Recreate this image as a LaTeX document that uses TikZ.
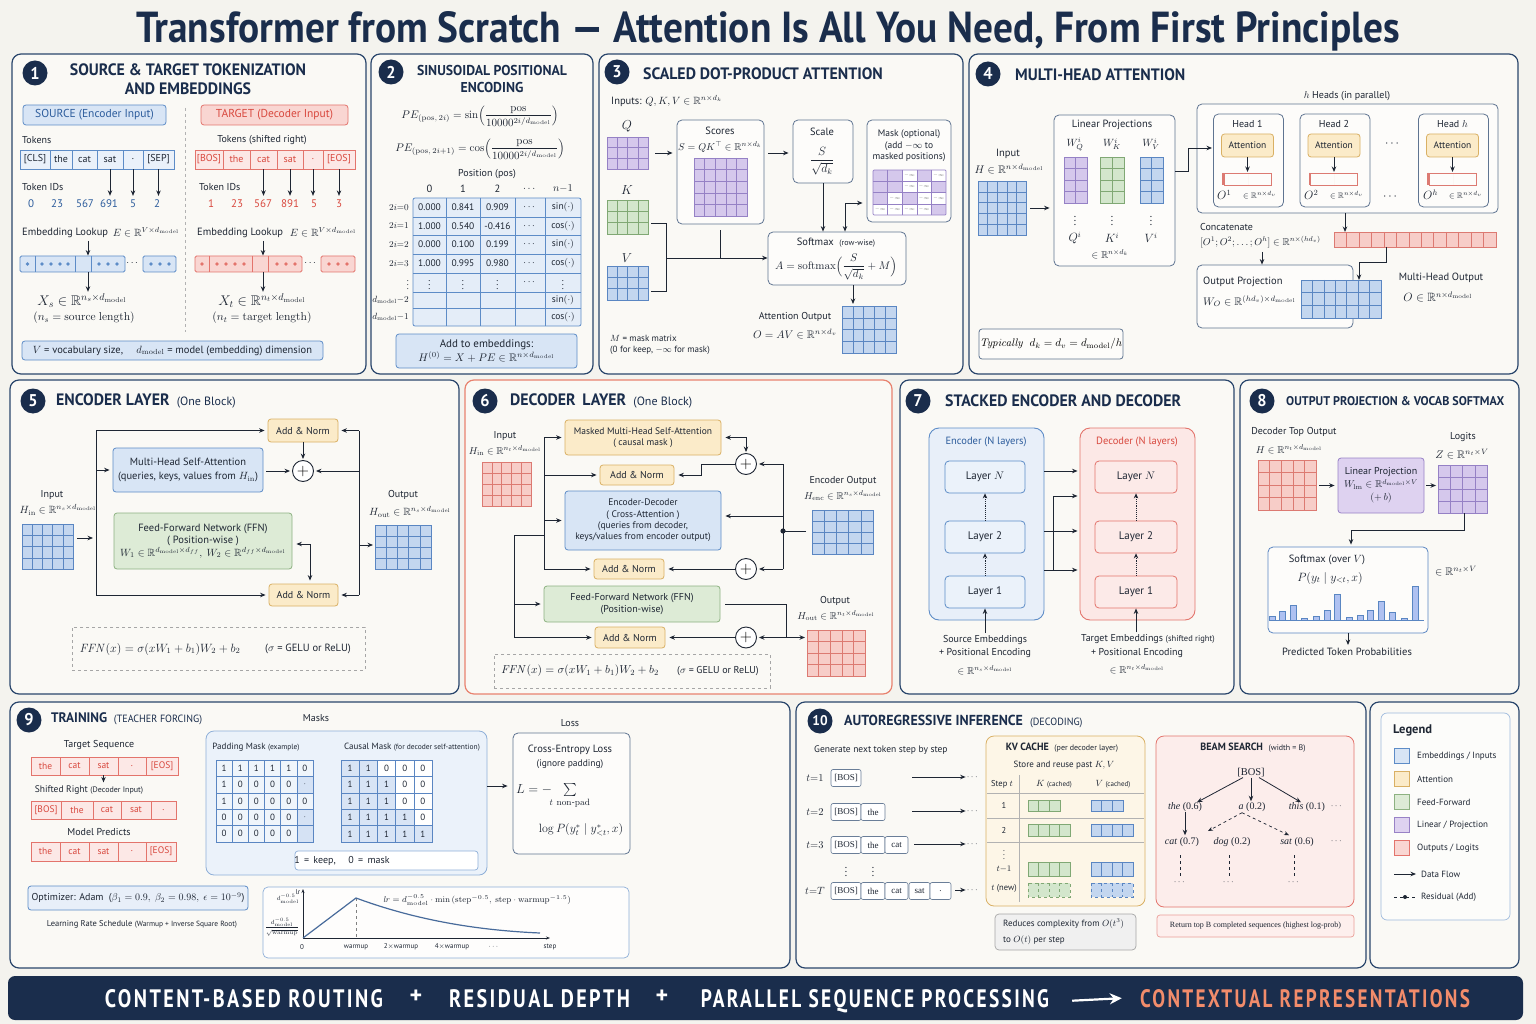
\RequirePackage{fix-cm}
\documentclass[tikz,border=0pt]{standalone}
\usepackage{amsmath,amssymb}
\usepackage[no-math]{fontspec}
\setmainfont{PT Sans}
\setsansfont{PT Sans}
\newfontfamily\hdfont[FakeStretch=0.96]{PT Sans}
\newfontfamily\bnfont[LetterSpace=12]{PT Sans}
\newfontfamily\serif{Liberation Serif}
\usepackage{graphicx}
\usetikzlibrary{arrows.meta,calc}

\definecolor{bgcol}{HTML}{F4F3EE}
\definecolor{panelfill}{HTML}{FAF9F5}
\definecolor{panelline}{HTML}{2A466C}
\definecolor{navy}{HTML}{1A2D4C}
\definecolor{ink}{HTML}{1E2633}
\definecolor{bluefill}{HTML}{D8E5F5}
\definecolor{blueline}{HTML}{5D8CC7}
\definecolor{bluetext}{HTML}{2C5C9C}
\definecolor{redfill}{HTML}{F9D6D2}
\definecolor{redline}{HTML}{E3746C}
\definecolor{redtext}{HTML}{D8483E}
\definecolor{grnfill}{HTML}{DDEBD6}
\definecolor{grnline}{HTML}{8DB281}
\definecolor{yelfill}{HTML}{FBEBC9}
\definecolor{yelline}{HTML}{D9B064}
\definecolor{purfill}{HTML}{DED2F0}
\definecolor{purline}{HTML}{9882C6}
\definecolor{bluemat}{HTML}{C3D6EF}
\definecolor{bluematline}{HTML}{5A86C2}
\definecolor{redmat}{HTML}{F7CDC8}
\definecolor{redmatline}{HTML}{DC7A72}
\definecolor{purmat}{HTML}{D5C8EC}
\definecolor{purmatline}{HTML}{9581C5}
\definecolor{grnmat}{HTML}{D3E6CC}
\definecolor{grnmatline}{HTML}{80A874}
\definecolor{orng}{HTML}{F28C6B}
\definecolor{p6line}{HTML}{E8826F}

\newcommand\fs[1]{\fontsize{#1}{\fpeval{1.2*#1}}\selectfont}
\newcommand\dm{d_{\mathrm{model}}}
\newcommand\RR{\mathbb{R}}

\newcommand\gridm[9][]{%
  \pgfmathsetmacro\gdx{(#4-#2)/#6}%
  \pgfmathsetmacro\gdy{(#5-#3)/#7}%
  \pgfmathtruncatemacro\gnc{#6-1}%
  \pgfmathtruncatemacro\gnr{#7-1}%
  \pgfmathsetmacro\gw{#4-#2}%
  \pgfmathsetmacro\gh{#5-#3}%
  \node[inner sep=0pt, outer sep=0pt, minimum width=\gw pt, minimum height=\gh pt, fill=#8mat] (#9) at ({(#2+#4)/2},{(#3+#5)/2}) {};
  \foreach \gi in {1,...,\gnc}{\draw[draw=#8matline, line width=0.5pt, #1] ({#2+\gi*\gdx},#3) -- ({#2+\gi*\gdx},#5);}%
  \ifnum\gnr>0 \foreach \gi in {1,...,\gnr}{\draw[draw=#8matline, line width=0.5pt, #1] (#2,{#3+\gi*\gdy}) -- (#4,{#3+\gi*\gdy});}\fi
  \draw[draw=#8matline, line width=0.8pt, #1] (#2,#3) rectangle (#4,#5);
}

\tikzset{
 panel/.style={draw=panelline, line width=1.2pt, rounded corners=9pt, fill=panelfill},
 badge/.style={circle, fill=navy, text=white, font=\hdfont\bfseries\fs{17}, inner sep=0pt, minimum size=25pt},
 ttl/.style={text=navy, font=\hdfont\bfseries\fs{16.5}, inner sep=0pt},
 txt/.style={text=ink, font=\fs{10}, inner sep=0pt},
 mth/.style={text=ink, font=\fs{11}, inner sep=0pt},
 ln/.style={draw=ink, line width=0.9pt},
 arr/.style={ln, -{Stealth[length=5.5pt,width=4.5pt]}},
 arrboth/.style={ln, {Stealth[length=5.5pt,width=4.5pt]}-{Stealth[length=5.5pt,width=4.5pt]}},
 bbox/.style={draw=#1line, fill=#1fill, rounded corners=3pt, line width=0.8pt, inner sep=0pt, text=ink},
 wbox/.style={draw=panelline!75, fill=white!55!panelfill, rounded corners=5pt, line width=0.8pt, inner sep=0pt},
 tok/.style={draw=#1line, fill=#1fill!55, minimum height=19pt, inner sep=0pt, font=\fs{10}, text=ink, line width=0.7pt},
 emb/.style={draw=#1line, fill=#1fill, minimum height=16pt, inner sep=0pt, rounded corners=1.5pt, line width=0.8pt},
 plus/.style={circle, draw=ink, line width=0.9pt, fill=white, minimum size=21pt, inner sep=0pt, font=\fs{16}},
 dashbox/.style={draw=gray!70, dashed, line width=0.7pt, inner sep=0pt},
 dotarr/.style={ln, densely dotted, -{Stealth[length=5pt,width=4.5pt]}},
 darr/.style={ln, dashed, line width=0.7pt, -{Stealth[length=5pt,width=4pt]}},
 sbox/.style={draw=panelline!70, fill=white, rounded corners=2pt, minimum height=17pt, inner sep=0pt, font=\serif\fs{9}, text=ink, line width=0.6pt},
}

\begin{document}
\begin{tikzpicture}[x=1pt,y=-1pt]
\useasboundingbox (0,0) rectangle (1536,1024);
\fill[bgcol] (0,0) rectangle (1536,1024);

% ---------- title
\node[anchor=base, inner sep=0pt, text=navy] (title) at (768,43) {\resizebox{1263pt}{31pt}{\bfseries Transformer from Scratch — Attention Is All You Need, From First Principles}};

% ================= PANEL 1
\draw[panel] (12,54) rectangle (366,374);
\node[badge] (b1) at (35,73) {1};
\node[ttl] (t1a) at (188,70) {SOURCE \& TARGET TOKENIZATION};
\node[ttl] (t1b) at (188,89) {AND EMBEDDINGS};
\node[bbox=blue, minimum width=143pt, minimum height=20pt, font=\fs{11.5}, text=bluetext] (srcl) at (94.5,115) {SOURCE (Encoder Input)};
\node[bbox=red, minimum width=147pt, minimum height=20pt, font=\fs{11.5}, text=redtext] (tgtl) at (274.5,115) {TARGET (Decoder Input)};
\coordinate (dv1) at (185,108); \coordinate (dv2) at (185,332);
\draw[dashed, draw=gray!60, line width=0.7pt] (dv1) -- (dv2);
\node[txt, anchor=west] (tk1) at (22,140) {Tokens};
\node[txt] (tk2) at (262,140) {Tokens (shifted right)};
\foreach \cx/\w/\tx/\nm in {35/30/{[CLS]}/s1, 61/22/the/s2, 84.5/25/cat/s3, 110/26/sat/s4, 133/20/./s5, 158.5/31/{[SEP]}/s6}
  \node[tok=blue, minimum width=\w pt] (\nm) at (\cx,159.5) {\tx};
\foreach \cx/\w/\tx/\nm in {209/28/{[BOS]}/u1, 236.5/27/the/u2, 263.5/27/cat/u3, 290/26/sat/u4, 313/20/./u5, 339/32/{[EOS]}/u6}
  \node[tok=red, minimum width=\w pt, text=redtext] (\nm) at (\cx,159.5) {\tx};
\node[txt, anchor=west] (tida) at (22,187) {Token IDs};
\node[txt, anchor=west] (tidb) at (199,187) {Token IDs};
\foreach \cx/\tx [count=\i] in {31/0, 57/23, 85/567, 109/691, 133/5, 157/2}
  \node[txt, font=\fs{11}, text=bluetext] (sid\i) at (\cx,204) {\tx};
\foreach \cx/\tx [count=\i] in {211/1, 237/23, 263/567, 290/891, 314/5, 339/3}
  \node[txt, font=\fs{11}, text=redtext] (tid\i) at (\cx,204) {\tx};
\foreach \i in {4,5,6} \draw[arr] (s\i.south) -- ([yshift=4pt]s\i.south |- sid\i.north);
\foreach \i in {3,4,5,6} \draw[arr] (u\i.south) -- ([yshift=4pt]u\i.south |- tid\i.north);
\node[txt, anchor=west, font=\fs{10.5}] (el1) at (22,233) {Embedding Lookup};
\node[mth, font=\fs{10.5}] (ee1) at (146,232) {$E\in\RR^{V\times\dm}$};
\node[txt, anchor=west, font=\fs{10.5}] (el2) at (197,233) {Embedding Lookup};
\node[mth, font=\fs{10.5}] (ee2) at (323,232) {$E\in\RR^{V\times\dm}$};
\node[emb=blue, minimum width=105pt] (semb) at (72.5,264) {};
\node[emb=blue, minimum width=33pt] (semb2) at (159.5,264) {};
\foreach \x in {35,75,91} \draw[blueline, line width=0.7pt] (\x,256) -- (\x,272);
\foreach \x in {27.5,42,51,60,68,99,108,117,151,160,169} \fill[blueline] (\x,264) circle (1.8pt);
\node[txt] (sdots) at (133,263) {$\cdots$};
\coordinate (sl) at (88,241);
\node[mth, font=\fs{14}] (xs) at (82,301) {$X_s\in\RR^{n_s\times\dm}$};
\node[mth, font=\fs{11.5}] (xsl) at (84,318) {$(n_s=\mathrm{source\ length})$};
\draw[arr] (sl) -- (sl |- semb.north);
\draw[arr] (sl |- semb.south) -- ([yshift=2pt]sl |- xs.north);
\node[emb=red, minimum width=107pt] (temb) at (248.5,264) {};
\node[emb=red, minimum width=34pt] (temb2) at (338,264) {};
\foreach \x in {209,252,268} \draw[redline, line width=0.7pt] (\x,256) -- (\x,272);
\foreach \x in {202,217,226,235,244,277,286,295,329,338,347} \fill[redline] (\x,264) circle (1.8pt);
\node[txt] (tdots) at (311,263) {$\cdots$};
\coordinate (tl) at (263,241);
\node[mth, font=\fs{14}] (xt) at (262,301) {$X_t\in\RR^{n_t\times\dm}$};
\node[mth, font=\fs{11.5}] (xtl) at (262,318) {$(n_t=\mathrm{target\ length})$};
\draw[arr] (tl) -- (tl |- temb.north);
\draw[arr] (tl |- temb.south) -- ([yshift=2pt]tl |- xt.north);
\node[bbox=blue, minimum width=301pt, minimum height=19pt, font=\fs{10.5}] (vbox) at (172.5,350.5) {$V$ = vocabulary size, \quad $\dm$ = model (embedding) dimension};

% ================= PANEL 2
\draw[panel] (371,54) rectangle (593,374);
\node[badge] (b2) at (391,72) {2};
\node[ttl, font=\hdfont\bfseries\fs{14.3}] (t2a) at (492,70) {SINUSOIDAL POSITIONAL};
\node[ttl, font=\hdfont\bfseries\fs{14.3}] (t2b) at (492,87) {ENCODING};
\node[mth, font=\fs{11}] (pef1) at (480,116) {$PE_{(\mathrm{pos},\,2i)} = \sin\Bigl(\dfrac{\mathrm{pos}}{10000^{2i/\dm}}\Bigr)$};
\node[mth, font=\fs{11}] (pef2) at (480,149) {$PE_{(\mathrm{pos},\,2i+1)} = \cos\Bigl(\dfrac{\mathrm{pos}}{10000^{2i/\dm}}\Bigr)$};
\node[txt] (pp) at (487,174) {Position (pos)};
\foreach \cx/\tx [count=\i] in {429.5/0, 463/1, 497.5/2, 530/{$\cdots$}, 563/{$n{-}1$}}
  \node[txt, font=\fs{10.5}] (ph\i) at (\cx,189) {\tx};
\node[draw=blueline, fill=bluefill!70, line width=0.8pt, rounded corners=2pt, minimum width=168pt, minimum height=128pt, inner sep=0pt] (petab) at (497,262) {};
\foreach \x in {446,480,515,545} \draw[blueline, line width=0.6pt] (\x,198) -- (\x,326);
\foreach \y in {217,235,254,273,292,308} \draw[blueline, line width=0.6pt] (413,\y) -- (581,\y);
\foreach \ry/\a/\b/\c/\d/\e [count=\ri] in {
 207.5/0.000/0.841/0.909/{$\cdots$}/{sin$(\cdot)$},
 226/1.000/0.540/-0.416/{$\cdots$}/{cos$(\cdot)$},
 244.5/0.000/0.100/0.199/{$\cdots$}/{sin$(\cdot)$},
 263.5/1.000/0.995/0.980/{$\cdots$}/{cos$(\cdot)$},
 282.5/{$\vdots$}/{$\vdots$}/{$\vdots$}/{$\cdots$}/{$\vdots$},
 300/{}/{}/{}/{}/{sin$(\cdot)$},
 317/{}/{}/{}/{}/{cos$(\cdot)$}}
{
 \node[txt, font=\fs{9.5}] (pa\ri) at (429.5,\ry) {\a};
 \node[txt, font=\fs{9.5}] (pb\ri) at (463,\ry) {\b};
 \node[txt, font=\fs{9.5}] (pc\ri) at (497.5,\ry) {\c};
 \node[txt, font=\fs{9.5}] (pd\ri) at (530,\ry) {\d};
 \node[txt, font=\fs{9.5}] (pe\ri) at (563,\ry) {\e};
}
\foreach \ry/\tx [count=\ri] in {207.5/{$2i{=}0$}, 226/{$2i{=}1$}, 244.5/{$2i{=}2$}, 263.5/{$2i{=}3$}, 282.5/{$\vdots$}, 300/{$\dm{-}2$}, 317/{$\dm{-}1$}}
  \node[txt, anchor=east, font=\fs{9}] (prl\ri) at (409,\ry) {\tx};
\node[bbox=blue, minimum width=181pt, minimum height=34pt, align=center, font=\fs{11}] (addpe) at (486.5,351) {Add to embeddings:\\ $H^{(0)} = X + PE \in \RR^{n\times\dm}$};

% ================= PANEL 3
\draw[panel] (599,54) rectangle (963,374);
\node[badge] (b3) at (617,72) {3};
\node[ttl, anchor=west] (t3) at (643,74) {SCALED DOT-PRODUCT ATTENTION};
\node[txt, anchor=west, font=\fs{10.5}] (inp3) at (611,101) {Inputs: $Q,K,V\in\RR^{n\times d_k}$};
\node[mth, font=\fs{13}] (ql) at (627,126) {$Q$};
\gridm{607}{137}{648}{169}{4}{3}{pur}{qm}
\node[mth, font=\fs{13}] (kl) at (627,190) {$K$};
\gridm{607}{200}{648}{234}{4}{3}{grn}{km}
\node[mth, font=\fs{13}] (vl) at (627,258) {$V$};
\gridm{607}{266}{648}{300}{4}{3}{blue}{vm}
\node[wbox, minimum width=87pt, minimum height=104pt] (scores) at (720.5,172) {};
\node[txt, font=\fs{10.5}] (sc1) at (720,131) {Scores};
\node[mth, font=\fs{10}] (sc2) at (720,147) {$S=QK^{\top}\in\RR^{n\times d_k}$};
\gridm{694}{158}{747}{216}{5}{5}{pur}{smat}
\node[wbox, minimum width=60pt, minimum height=63pt] (scale) at (823,151.5) {};
\node[txt, font=\fs{10.5}] (scl1) at (822,132) {Scale};
\node[mth, font=\fs{12}] (scl2) at (822,161) {$\dfrac{S}{\sqrt{d_k}}$};
\draw[arr] ([xshift=7pt]qm.east) -- ([xshift=-4pt]scores.west |- qm.east);
\draw[arr] ([xshift=4pt]scores.east |- qm.east) -- ([xshift=-4pt]scale.west |- qm.east);
\node[wbox, minimum width=84pt, minimum height=102pt] (mask) at (909,171) {};
\node[txt, font=\fs{9.5}, align=center] (mk1) at (909,146) {Mask (optional)\\(add $-\infty$ to\\masked positions)};
\foreach \v [count=\k from 0] in {1,1,0,1,0, 1,1,0,0,1, 1,0,1,0,0, 0,0,0,0,1} {
  \pgfmathtruncatemacro\rr{\k/5}\pgfmathtruncatemacro\cc{mod(\k,5)}
  \pgfmathsetmacro\mx{873+14.6*\cc}\pgfmathsetmacro\my{170+11.25*\rr}
  \ifnum\v=1 \fill[purmat] (\mx,\my) rectangle ++(14.6,11.25);
  \else \fill[white] (\mx,\my) rectangle ++(14.6,11.25);
   \node[txt, font=\fs{4.5}, text=gray] (mq\k) at (\mx+7.3,\my+5.6) {$-\infty$};\fi
}
\foreach \i in {1,...,4} \draw[purmatline, line width=0.4pt] (873+14.6*\i,170) -- (873+14.6*\i,215);
\foreach \i in {1,...,3} \draw[purmatline, line width=0.4pt] (873,170+11.25*\i) -- (946,170+11.25*\i);
\draw[purmatline, line width=0.7pt, rounded corners=1pt] (873,170) rectangle (946,215);
\node[wbox, minimum width=138pt, minimum height=53pt] (soft) at (837,258.5) {};
\node[txt, font=\fs{10.5}] (sf1) at (836,243) {Softmax \ {\fs{8}(row-wise)}};
\node[mth, font=\fs{11}] (sf2) at (836,267) {$A=\mathrm{softmax}\Bigl(\dfrac{S}{\sqrt{d_k}}+M\Bigr)$};
\draw[arr] (scale.south) -- (scale.south |- soft.north);
\coordinate (mk) at (845,203);
\draw[arrboth] ([xshift=-4pt]mask.west |- mk) -- (mk) -- (mk |- soft.north);
\coordinate (br1) at (651,223); \coordinate (br2) at (666,223); \coordinate (br3) at (666,291); \coordinate (br4) at (651,291); \coordinate (kv) at (666,258);
\draw[ln] (br1) -- (br2) -- (br3) -- (br4);
\draw[arr] (kv) -- (kv -| soft.west);
\draw[ln] ([yshift=-6pt]scores.south) -- (scores.south |- kv);
\gridm{842}{306}{896}{353}{5}{4}{blue}{om3}
\coordinate (ao) at (853,290);
\draw[arr] (ao |- soft.south) -- ([yshift=2pt]ao |- om3.north);
\node[txt] (ao1) at (795,317) {Attention Output};
\node[mth, font=\fs{11}] (ao2) at (795,334) {$O=AV\in\RR^{n\times d_v}$};
\node[txt, anchor=west, font=\fs{9}] (mm1) at (610,338) {$M$ = mask matrix};
\node[txt, anchor=west, font=\fs{9}] (mm2) at (610,350) {(0 for keep, $-\infty$ for mask)};

% ================= PANEL 4
\draw[panel] (969,54) rectangle (1518,374);
\node[badge] (b4) at (988,74) {4};
\node[ttl, anchor=west] (t4) at (1015,75) {MULTI-HEAD ATTENTION};
\node[txt, font=\fs{10}] (hh) at (1347,96) {$h$ Heads (in parallel)};
\node[txt, font=\fs{10.5}] (in4a) at (1008,154) {Input};
\node[mth, font=\fs{11}] (in4b) at (1009,169) {$H\in\RR^{n\times\dm}$};
\gridm{978}{181}{1026}{235}{5}{5}{blue}{hin4}
\node[wbox, minimum width=121pt, minimum height=151pt] (lp) at (1114.5,190.5) {};
\draw[arr] ([xshift=4pt]hin4.east) -- ([xshift=-4pt]lp.west |- hin4.east);
\node[txt, font=\fs{10.5}] (lpt) at (1112,125) {Linear Projections};
\node[mth, font=\fs{10.5}] (wq) at (1075,144) {$W_Q^i$};
\node[mth, font=\fs{10.5}] (wk) at (1112,144) {$W_K^i$};
\node[mth, font=\fs{10.5}] (wv) at (1151,144) {$W_V^i$};
\gridm{1064}{157}{1087}{203}{2}{4}{pur}{wqm}
\gridm{1100}{157}{1124}{203}{2}{4}{grn}{wkm}
\gridm{1140}{157}{1163}{203}{2}{4}{blue}{wvm}
\foreach \x/\nm in {1075/vd1,1112/vd2,1151/vd3} \node[mth, font=\fs{11}] (\nm) at (\x,218) {$\vdots$};
\node[mth, font=\fs{12}] (qi) at (1075,238) {$Q^i$};
\node[mth, font=\fs{12}] (ki) at (1112,238) {$K^i$};
\node[mth, font=\fs{12}] (vi) at (1151,238) {$V^i$};
\node[mth, font=\fs{10}] (rk) at (1110,254) {$\in\RR^{n\times d_k}$};
\node[wbox, minimum width=301pt, minimum height=109pt] (heads) at (1347.5,158.5) {};
\coordinate (lpo) at (1188,171); \coordinate (hinp) at (1212,148);
\draw[arr] (lp.east |- lpo) -- (lpo) |- (hinp);
\foreach \cx/\hl/\nm/\ol/\ox in {1248.5/{Head 1}/1/{$O^1$}/1217, 1335/{Head 2}/2/{$O^2$}/1304, 1453.5/{Head $h$}/3/{$O^h$}/1423} {
  \node[wbox, minimum width=70pt, minimum height=93pt] (hd\nm) at (\cx,160.5) {};
  \node[txt, font=\fs{10}] (hdl\nm) at (\cx-1,124) {\hl};
  \node[bbox=yel, minimum width=52pt, minimum height=23pt, font=\fs{9.5}] (att\nm) at (\cx-1,145.5) {Attention};
  \gridm{\cx-24.5}{173}{\cx+22.5}{185}{4}{1}{red}{ov\nm}
  \draw[arr] (att\nm.south) -- ([yshift=1pt]att\nm.south |- ov\nm.north);
  \node[mth, font=\fs{12}, anchor=west] (ol\nm) at (\ox,195) {\ol};
  \node[mth, font=\fs{8}, anchor=west] (or\nm) at (\ox+26,195) {$\in\RR^{n\times d_v}$};
}
\node[mth, font=\fs{12}] (hdots1) at (1393,144) {$\cdots$};
\node[mth, font=\fs{12}] (hdots2) at (1391,197) {$\cdots$};
\gridm{1334}{232}{1496}{247}{13}{1}{red}{cat4}
\coordinate (hc) at (1345,213);
\draw[arr] (heads.south -| hc) -- (cat4.north -| hc);
\node[txt, anchor=west, font=\fs{10}] (cc1) at (1200,227) {Concatenate};
\node[mth, anchor=west, font=\fs{10}] (cc2) at (1200,242) {$[O^1;O^2;\ldots;O^h]\in\RR^{n\times(hd_v)}$};
\node[wbox, minimum width=156pt, minimum height=63pt] (op) at (1275,296.5) {};
\coordinate (ccc) at (1262,252);
\draw[arr] (ccc) -- (ccc |- op.north);
\node[txt, anchor=west, font=\fs{10.5}] (op1) at (1203,282) {Output Projection};
\node[mth, anchor=west, font=\fs{11}] (op2) at (1203,301) {$W_O\in\RR^{(hd_v)\times\dm}$};
\gridm{1301}{280}{1381}{318}{7}{3}{blue}{mho}
\coordinate (cb1) at (1386,262); \coordinate (cb2) at (1359,262);
\draw[arr] (cat4.south -| cb1) -- (cb1) -- (cb2) -- (cb2 |- mho.north);
\node[txt, font=\fs{10.5}] (mh1) at (1441,278) {Multi-Head Output};
\node[mth, font=\fs{12}] (mh2) at (1438,297) {$O\in\RR^{n\times\dm}$};
\node[draw=panelline!75, fill=white!55!panelfill, rounded corners=3pt, line width=0.8pt, minimum width=144pt, minimum height=30pt, font=\fs{11}, inner sep=0pt] (typ) at (1051,344) {$\mathit{Typically}\ \ d_k = d_v = \dm/h$};

% ================= PANEL 5
\draw[panel] (10,380) rectangle (459,694);
\node[badge] (b5) at (33,401) {5};
\node[ttl, anchor=west] (t5) at (56,401) {ENCODER LAYER {\mdseries\fontspec{PT Sans}\fs{12} (One Block)}};
\node[txt] (in5a) at (52,495) {Input};
\node[mth, font=\fs{10.5}] (in5b) at (58,510) {$H_{\mathrm{in}}\in\RR^{n_s\times\dm}$};
\gridm{22}{524}{73}{569}{5}{4}{blue}{hin5}
\coordinate (l5t) at (96,430.5); \coordinate (l5b) at (96,595); \coordinate (in5) at (96,538);
\draw[arr] ([xshift=4pt]hin5.east |- in5) -- ([xshift=-3pt]in5);
\node[bbox=yel, minimum width=70pt, minimum height=23pt, font=\fs{10}] (an51) at (303,430.5) {Add \& Norm};
\node[bbox=blue, minimum width=150pt, minimum height=44pt, font=\fs{10.5}, align=center] (mhsa5) at (188,470) {Multi-Head Self-Attention\\[2pt](queries, keys, values from $H_{\mathrm{in}}$)};
\node[plus] (p5) at (303,471) {$+$};
\node[bbox=grn, minimum width=178pt, minimum height=56pt, font=\fs{10.5}, align=center] (ffn5) at (203,541) {Feed-Forward Network (FFN)\\( Position-wise )\\$W_1\in\RR^{\dm\times d_{ff}},\ W_2\in\RR^{d_{ff}\times\dm}$};
\node[bbox=yel, minimum width=69pt, minimum height=22pt, font=\fs{10}] (an52) at (303.5,595) {Add \& Norm};
\draw[ln] (l5t) -- (l5b);
\draw[arr] (l5t) -- ([xshift=-3pt]an51.west);
\draw[arr] (l5t |- mhsa5.west) -- ([xshift=-3pt]mhsa5.west);
\draw[arr] (l5b) -- ([xshift=-3pt]an52.west);
\draw[arr] ([xshift=3pt]mhsa5.east |- p5) -- ([xshift=-2pt]p5.west);
\draw[arr] (an51.south) -- ([yshift=1pt]p5.north);
\coordinate (r5t) at (359,430.5); \coordinate (r5b) at (359,595); \coordinate (o5) at (359,545);
\draw[ln] (r5t) -- (r5b);
\draw[arr] (r5t) -- ([xshift=3pt]an51.east);
\draw[arr] (r5t |- p5) -- ([xshift=2pt]p5.east);
\draw[arr] (r5b) -- ([xshift=3pt]an52.east);
\gridm{375}{525}{431}{569}{5}{4}{blue}{hout5}
\draw[arr] (o5) -- ([xshift=-2pt]o5 -| hout5.west);
\node[txt] (out5a) at (403,495) {Output};
\node[mth, font=\fs{10.5}] (out5b) at (410,512) {$H_{\mathrm{out}}\in\RR^{n_s\times\dm}$};
\coordinate (f5) at (310,544);
\draw[arrboth] ([xshift=4pt]ffn5.east |- f5) -- (f5) -- ([yshift=3pt]f5 |- an52.north);
\node[dashbox, minimum width=293pt, minimum height=43pt] (ffnf5) at (218.5,648.5) {};
\node[mth, font=\fs{12}] (ff5a) at (160,649) {$\mathit{FFN}(x) = \sigma(xW_1+b_1)W_2+b_2$};
\node[txt, font=\fs{10.5}] (ff5b) at (308,649) {($\sigma$ = GELU or ReLU)};

% ================= PANEL 6
\draw[panel, draw=p6line] (465,380) rectangle (892,694);
\node[badge] (b6) at (485,401) {6};
\node[ttl, anchor=west] (t6) at (510,401) {DECODER\, LAYER {\mdseries\fontspec{PT Sans}\fs{12} (One Block)}};
\node[txt] (in6a) at (505,436) {Input};
\node[mth, font=\fs{10}] (in6b) at (505,451) {$H_{\mathrm{in}}\in\RR^{n_t\times\dm}$};
\gridm{482}{462}{531}{506}{5}{4}{red}{hin6}
\node[bbox=yel, minimum width=156pt, minimum height=35pt, font=\fs{9.5}, align=center] (mm6) at (643,437.5) {Masked Multi-Head Self-Attention\\( causal mask )};
\node[bbox=yel, minimum width=74pt, minimum height=20pt, font=\fs{10}] (an61) at (637,475) {Add \& Norm};
\node[bbox=blue, minimum width=156pt, minimum height=59pt, font=\fs{9.5}, align=center] (ca6) at (643,520.5) {Encoder-Decoder\\( Cross-Attention )\\(queries from decoder,\\keys/values from encoder output)};
\node[bbox=yel, minimum width=70pt, minimum height=20pt, font=\fs{10}] (an62) at (629,569) {Add \& Norm};
\node[bbox=grn, minimum width=176pt, minimum height=36pt, font=\fs{10}, align=center] (ffn6) at (632,604) {Feed-Forward Network (FFN)\\(Position-wise)};
\node[bbox=yel, minimum width=70pt, minimum height=21pt, font=\fs{10}] (an63) at (630,637.5) {Add \& Norm};
\coordinate (l6t) at (544,437.5); \coordinate (l6b) at (544,569); \coordinate (l6j) at (544,535);
\coordinate (l6k) at (514,535); \coordinate (l6m) at (514,637.5);
\draw[ln] (l6t) -- (l6b);
\draw[arr] (l6t) -- ([xshift=-3pt]mm6.west);
\draw[arr] (l6t |- an61) -- ([xshift=-3pt]an61.west);
\draw[arr] (l6t |- ca6) -- ([xshift=-3pt]ca6.west);
\draw[arr] (l6b) -- ([xshift=-3pt]an62.west);
\draw[ln] (l6j) -- (l6k) -- (l6m);
\draw[arr] (l6k |- ffn6) -- ([xshift=-3pt]ffn6.west);
\draw[arr] (l6m) -- ([xshift=-3pt]an63.west);
\node[plus] (p61) at (746,464) {$+$};
\node[plus] (p62) at (746,569) {$+$};
\node[plus] (p63) at (746,637.5) {$+$};
\coordinate (m6) at (746,437.5);
\draw[arrboth] ([xshift=4pt]mm6.east) -- (m6) -- ([yshift=1pt]p61.north);
\coordinate (k61) at (701,475);
\draw[arr] (p61.west) -| (k61) -- ([xshift=4pt]an61.east);
\coordinate (r6t) at (783,464); \coordinate (r6b) at (783,569); \coordinate (r6m) at (783,516); \coordinate (r6d) at (783,531);
\draw[ln] (r6t) -- (r6b);
\draw[arr] (r6t) -- ([xshift=2pt]p61.east);
\draw[arr] (r6m) -- ([xshift=4pt]r6m -| ca6.east);
\draw[arr] (r6b) -- ([xshift=2pt]p62.east);
\fill[ink] (r6d) circle (2.6pt);
\gridm{812}{510}{873}{554}{5}{4}{blue}{hen6}
\draw[ln] ([xshift=-6pt]hen6.west |- r6d) -- (r6d);
\draw[arr] (p62.west) -- ([xshift=4pt]an62.east);
\node[txt] (en6a) at (843,481) {Encoder Output};
\node[mth, font=\fs{10}] (en6b) at (843,496) {$H_{\mathrm{enc}}\in\RR^{n_s\times\dm}$};
\gridm{807}{630}{865}{676}{5}{4}{red}{hout6}
\coordinate (f6a) at (786,604); \coordinate (f6b) at (786,637.5);
\draw[ln] ([xshift=5pt]ffn6.east |- f6a) -- (f6a) -- (f6b);
\draw[arr] (f6b) -- ([xshift=2pt]p63.east);
\draw[arr] (f6b) -- ([xshift=-2pt]hout6.west |- f6b);
\draw[arr] (p63.west) -- ([xshift=4pt]an63.east);
\node[txt] (out6a) at (835,601) {Output};
\node[mth, font=\fs{10}] (out6b) at (836,616) {$H_{\mathrm{out}}\in\RR^{n_t\times\dm}$};
\node[dashbox, minimum width=276pt, minimum height=34pt] (ffnf6) at (632,671) {};
\node[mth, font=\fs{11.5}] (ff6a) at (580,671) {$\mathit{FFN}(x) = \sigma(xW_1+b_1)W_2+b_2$};
\node[txt, font=\fs{10}] (ff6b) at (718,671) {($\sigma$ = GELU or ReLU)};

% ================= PANEL 7
\draw[panel] (900,380) rectangle (1234,694);
\node[badge] (b7) at (918,401) {7};
\node[ttl, anchor=west] (t7) at (945,401) {STACKED ENCODER AND DECODER};
\node[draw=blueline, fill=bluefill!60, rounded corners=10pt, line width=0.9pt, minimum width=115pt, minimum height=192pt, inner sep=0pt] (enc7) at (986.5,524) {};
\node[txt, font=\fs{10.5}, text=bluetext] (enc7t) at (986,442) {Encoder (N layers)};
\node[draw=redline, fill=redfill!55, rounded corners=10pt, line width=0.9pt, minimum width=115pt, minimum height=192pt, inner sep=0pt] (dec7) at (1137.5,524) {};
\node[txt, font=\fs{10.5}, text=redtext] (dec7t) at (1137,442) {Decoder (N layers)};
\foreach \cy/\tx/\nm in {477/{Layer $N$}/n, 537/{Layer 2}/2, 592/{Layer 1}/1} {
  \node[draw=blueline, fill=bluefill!50, rounded corners=4pt, line width=0.8pt, minimum width=80pt, minimum height=32pt, font=\fs{11}, text=ink] (el\nm) at (985,\cy) {\tx};
  \node[draw=redline, fill=redfill!50, rounded corners=4pt, line width=0.8pt, minimum width=82pt, minimum height=32pt, font=\fs{11}, text=ink] (dl\nm) at (1136,\cy) {\tx};
}
\draw[dotarr] (el1.north) -- (el2.south);
\draw[dotarr] (el2.north) -- (eln.south);
\draw[dotarr] (dl1.north) -- (dl2.south);
\draw[dotarr] (dl2.north) -- (dln.south);
\node[txt, font=\fs{10}] (se7a) at (985,640) {Source Embeddings};
\node[txt, font=\fs{10}] (se7b) at (985,653) {+ Positional Encoding};
\node[mth, font=\fs{10}] (se7c) at (985,670) {$\in\RR^{n_s\times\dm}$};
\node[txt, font=\fs{10}] (te7a) at (1148,639) {Target Embeddings {\fs{8.5}(shifted right)}};
\node[txt, font=\fs{10}] (te7b) at (1137,653) {+ Positional Encoding};
\node[mth, font=\fs{10}] (te7c) at (1137,669) {$\in\RR^{n_t\times\dm}$};
\draw[arr] ([yshift=2pt]el1.south |- se7a.north) -- (el1.south);
\draw[arr] ([yshift=2pt]dl1.south |- te7a.north) -- (dl1.south);
\coordinate (e7a) at (1044,471); \coordinate (e7b) at (1053,496); \coordinate (e7c) at (1044,531); \coordinate (e7d) at (1044,570); \coordinate (e7e) at (1053,570);
\draw[arr] (e7a) -- ([xshift=-2pt]dec7.west |- e7a);
\draw[ln] (e7b) -- (e7e);
\draw[arr] (e7b) -- ([xshift=-2pt]dec7.west |- e7b);
\draw[arr] (e7c) -- ([xshift=-2pt]dec7.west |- e7c);
\draw[arr] (e7d) -- ([xshift=-2pt]dec7.west |- e7d);

% ================= PANEL 8
\draw[panel] (1240,380) rectangle (1519,694);
\node[badge] (b8) at (1262,401) {8};
\node[ttl, anchor=west, font=\hdfont\bfseries\fs{12.6}] (t8) at (1286,401) {OUTPUT PROJECTION \& VOCAB SOFTMAX};
\node[txt] (d8a) at (1294,432) {Decoder Top Output};
\node[mth, font=\fs{10}] (d8b) at (1289,449) {$H\in\RR^{n_t\times\dm}$};
\gridm{1258}{460}{1316}{510}{5}{4}{red}{h8}
\node[bbox=pur, minimum width=86pt, minimum height=55pt, font=\fs{10}, align=center] (lp8) at (1381,485.5) {Linear Projection\\[1pt]$W_{\mathrm{lm}}\in\RR^{\dm\times V}$\\[1pt]$(+\,b)$};
\draw[arr] ([xshift=3pt]h8.east |- lp8) -- ([xshift=-3pt]lp8.west);
\gridm{1438}{465}{1487}{513}{4}{4}{pur}{z8}
\draw[arr] ([xshift=2pt]lp8.east) -- ([xshift=-2pt]z8.west |- lp8);
\node[txt] (lg8a) at (1463,437) {Logits};
\node[mth, font=\fs{11}] (lg8b) at (1462,454) {$Z\in\RR^{n_t\times V}$};
\node[draw=bluematline, fill=white!55!panelfill, rounded corners=5pt, line width=0.8pt, minimum width=160pt, minimum height=86pt, inner sep=0pt] (sm8) at (1348,590) {};
\coordinate (z8a) at (1464,530); \coordinate (z8b) at (1351,530);
\draw[arr] (z8.south -| z8a) -- (z8a) -- (z8b) -- ([yshift=2pt]z8b |- sm8.north);
\node[txt, font=\fs{10.5}] (sm8a) at (1327,560) {Softmax (over $V$)};
\node[mth, font=\fs{12}] (sm8b) at (1330,578) {$P(y_t \mid y_{<t}, x)$};
\foreach \bx/\by in {1272.7/616.3, 1282.7/611.3, 1293.3/605.3, 1304.3/618.7, 1316/616.3, 1327/610.3, 1337.3/594.7, 1349.3/617.3, 1360/615.7, 1370.7/610.7, 1381.7/601.3, 1392.7/612.3, 1404.3/618.3, 1415/586.7}
  \draw[draw=bluematline, fill=bluemat!90!blue, line width=0.5pt] (\bx-3,620) rectangle (\bx+3,\by);
\draw[bluematline, line width=1pt] (1270,620) -- (1424,620);
\node[mth, font=\fs{11}] (rv8) at (1456,571) {$\in\RR^{n_t\times V}$};
\node[txt, font=\fs{10.5}] (pred8) at (1347,652) {Predicted Token Probabilities};
\draw[arr] (sm8.south) -- ([yshift=3pt]sm8.south |- pred8.north);

% ================= PANEL 9
\draw[panel] (10,702) rectangle (790,968);
\node[badge] (b9) at (29,720) {9};
\node[ttl, anchor=west, font=\hdfont\bfseries\fs{13.8}] (t9) at (51,719) {TRAINING \ {\mdseries\fs{10.5}(TEACHER FORCING)}};
\node[txt] (mk9) at (316,718) {Masks};
\node[txt] (ts9) at (99,745) {Target Sequence};
\foreach \cx/\w/\tx [count=\i] in {45.5/29/the, 74.5/29/cat, 103.5/29/sat, 132/28/., 162/32/{[EOS]}}
  \node[tok=red, minimum width=\w pt, minimum height=18pt, font=\fs{9.5}, text=redtext] (ra\i) at (\cx,766) {\tx};
\node[txt, font=\fs{9.5}] (sr9) at (89,790) {Shifted Right {\fs{8}(Decoder Input)}};
\draw[arr] (ra3.south) -- ([yshift=3pt]ra3.south |- sr9.north);
\foreach \cx/\w/\tx [count=\i] in {46/30/{[BOS]}, 77/32/the, 107/28/cat, 136/30/sat, 163.5/25/.}
  \node[tok=red, minimum width=\w pt, minimum height=18pt, font=\fs{9.5}, text=redtext] (rb\i) at (\cx,810) {\tx};
\node[txt] (mp9) at (99,832) {Model Predicts};
\foreach \cx/\w/\tx [count=\i] in {45.5/29/the, 74.5/29/cat, 103.5/29/sat, 132/28/., 161/30/{[EOS]}}
  \node[tok=red, minimum width=\w pt, minimum height=19pt, font=\fs{9.5}, text=redtext] (rc\i) at (\cx,851.5) {\tx};
\node[draw=blueline!70, fill=bluefill!50, rounded corners=8pt, line width=0.8pt, minimum width=281pt, minimum height=144pt, inner sep=0pt] (masks) at (346.5,803) {};
\node[txt, font=\fs{9}] (pmt) at (256,747) {Padding Mask {\fs{7.5}(example)}};
\node[txt, font=\fs{9}] (cmt) at (412,747) {Causal Mask {\fs{7.5}(for decoder self-attention)}};
\fill[white!60!bluefill] (216,760) rectangle (313,842);
\foreach \v [count=\k from 0] in {1,1,1,1,1,0, 1,0,0,0,0,2, 1,0,0,0,0,0, 0,0,0,0,0,2, 0,0,0,0,0,3} {
  \pgfmathtruncatemacro\rr{\k/6}\pgfmathtruncatemacro\cc{mod(\k,6)}
  \pgfmathsetmacro\mx{216+16.1667*\cc}\pgfmathsetmacro\my{760+16.4*\rr}
  \ifnum\v>1 \fill[bluemat!70] (\mx,\my) rectangle ++(16.1667,16.4);\fi
  \node[txt, font=\fs{9}] (pm\k) at (\mx+8.08,\my+8.2) {\ifcase\v\relax 0\or 1\or $\cdot$\else\fi};
}
\foreach \i in {1,...,5} \draw[bluematline, line width=0.5pt] (216+16.1667*\i,760) -- (216+16.1667*\i,842);
\foreach \i in {1,...,4} \draw[bluematline, line width=0.5pt] (216,760+16.4*\i) -- (313,760+16.4*\i);
\draw[bluematline, line width=0.8pt] (216,760) rectangle (313,842);
\fill[white] (341,760) rectangle (432,842);
\foreach \v [count=\k from 0] in {1,1,0,0,0, 1,1,1,0,0, 1,1,1,0,0, 1,1,1,1,0, 1,1,1,1,1} {
  \pgfmathtruncatemacro\rr{\k/5}\pgfmathtruncatemacro\cc{mod(\k,5)}
  \pgfmathsetmacro\mx{341+18.2*\cc}\pgfmathsetmacro\my{760+16.4*\rr}
  \ifnum\v=1 \fill[bluemat!65] (\mx,\my) rectangle ++(18.2,16.4);\fi
  \node[txt, font=\fs{9}] (cm\k) at (\mx+9.1,\my+8.2) {\v};
}
\foreach \i in {1,...,4} \draw[bluematline, line width=0.5pt] (341+18.2*\i,760) -- (341+18.2*\i,842);
\foreach \i in {1,...,4} \draw[bluematline, line width=0.5pt] (341,760+16.4*\i) -- (432,760+16.4*\i);
\draw[bluematline, line width=0.8pt] (341,760) rectangle (432,842);
\node[draw=blueline!70, fill=white, rounded corners=3pt, line width=0.7pt, minimum width=183pt, minimum height=19pt, inner sep=0pt] (keep9) at (386.5,860.5) {};
\node[txt, font=\fs{10}] (keep9t) at (342,860.5) {1 \,=\, keep, \quad 0 \,=\, mask};
\coordinate (m9) at (488,786);
\node[txt] (los9) at (570,723) {Loss};
\node[wbox, minimum width=117pt, minimum height=121pt] (loss9) at (571.5,793.5) {};
\draw[arr] (masks.east |- m9) -- ([xshift=-5pt]m9 -| loss9.west);
\node[txt, font=\fs{10.5}] (ce9a) at (570,750) {Cross-Entropy Loss};
\node[txt, font=\fs{9.5}] (ce9b) at (570,764) {(ignore padding)};
\node[mth, font=\fs{13}] (ce9c) at (553,796) {$L = -\!\!\sum\limits_{t\ \mathrm{non\text{-}pad}}$};
\node[mth, font=\fs{12}] (ce9d) at (581,830) {$\log P(y_t^{*}\mid y_{<t}^{*}, x)$};
\node[bbox=blue, fill=bluefill!60, minimum width=220pt, minimum height=24pt, font=\fs{10}] (opt9) at (138,898) {Optimizer: Adam \ ($\beta_1=0.9,\ \beta_2=0.98,\ \epsilon=10^{-9}$)};
\node[txt, font=\fs{8.5}] (lrs9) at (142,924) {Learning Rate Schedule {\fs{7.5}(Warmup + Inverse Square Root)}};
\node[draw=blueline!70, fill=white!70!panelfill, rounded corners=5pt, line width=0.7pt, minimum width=366pt, minimum height=71pt, inner sep=0pt] (lrbox) at (446,922.5) {};
\coordinate (ax0) at (303,938); \coordinate (axy) at (303,889); \coordinate (axx) at (550,938);
\draw[ln, line width=0.6pt, -{Stealth[length=4pt,width=3pt]}] (ax0) -- (axy);
\draw[ln, line width=0.6pt, -{Stealth[length=4pt,width=3pt]}] (ax0) -- (axx);
\draw[dashed, gray, line width=0.5pt] (356,898) -- (356,938);
\draw[bluematline!80!black, line width=1.2pt] (ax0) -- (356,898) .. controls (410,918) and (470,930) .. (540,933);
\node[txt, font=\fs{7}] (lr0) at (298,892) {lr};
\node[mth, font=\fs{6}, anchor=east] (lry1) at (299,899) {$\dm^{-0.5}$};
\node[mth, font=\fs{6}, anchor=east] (lry2) at (299,927) {$\dfrac{\dm^{-0.5}}{\sqrt{\mathrm{warmup}}}$};
\foreach \x/\tx [count=\i] in {302/0, 356/warmup, 401/{2$\times$warmup}, 452/{4$\times$warmup}, 494/{$\cdots$}, 550/step}
  \node[txt, font=\fs{7}] (lrx\i) at (\x,947) {\tx};
\node[mth, font=\fs{8.5}] (lrf) at (477,900) {${\fs{11}\mathit{lr}} = \dm^{-0.5}\cdot\min\,(\mathrm{step}^{-0.5},\ \mathrm{step}\cdot\mathrm{warmup}^{-1.5})$};

% ================= PANEL 10
\draw[panel] (796,702) rectangle (1366,968);
\node[badge, font=\hdfont\bfseries\fs{14}] (b10) at (820,721) {10};
\node[ttl, anchor=west, font=\hdfont\bfseries\fs{14.5}] (t10) at (844,721) {AUTOREGRESSIVE INFERENCE \ {\mdseries\fs{10.5}(DECODING)}};
\node[txt, anchor=west, font=\fs{9.5}] (gen10) at (814,750) {Generate next token step by step};
\foreach \ty/\tl/\nm in {778/{$t{=}1$}/1, 812/{$t{=}2$}/2, 845/{$t{=}3$}/3, 891/{$t{=}T$}/4}
  \node[mth, font=\fs{10.5}] (tl\nm) at (815,\ty) {\tl};
\node[sbox, minimum width=30pt] (q1a) at (846,778) {[BOS]};
\node[sbox, minimum width=30pt] (q2a) at (846,812) {[BOS]};
\node[sbox, minimum width=24pt] (q2b) at (873,812) {the};
\node[sbox, minimum width=30pt] (q3a) at (846,845) {[BOS]};
\node[sbox, minimum width=24pt] (q3b) at (873,845) {the};
\node[sbox, minimum width=23pt] (q3c) at (896.5,845) {cat};
\node[sbox, minimum width=30pt] (q4a) at (846,891) {[BOS]};
\node[sbox, minimum width=24pt] (q4b) at (873,891) {the};
\node[sbox, minimum width=23pt] (q4c) at (896.5,891) {cat};
\node[sbox, minimum width=21pt] (q4d) at (919.5,891) {sat};
\node[sbox, minimum width=21pt] (q4e) at (940.5,891) {.};
\node[mth, font=\fs{11}] (vq1) at (846,869) {$\vdots$};
\node[mth, font=\fs{11}] (vq2) at (873,869) {$\vdots$};
\foreach \ty/\nm/\sx in {777/1/912, 811/2/912, 844/3/914, 890/4/955} {
  \node[mth, font=\fs{9}] (dd\nm) at (973,\ty) {$\cdots$};
  \coordinate (sa\nm) at (\sx,\ty);
  \draw[arr] (sa\nm) -- ([xshift=-1pt]dd\nm.west);
}
\node[draw=yelline, fill=yelfill!45, rounded corners=8pt, line width=0.8pt, minimum width=159pt, minimum height=170pt, inner sep=0pt] (kv10) at (1065.5,821) {};
\node[txt, font=\fs{10.5}] (kvt) at (1062,748) {{\hdfont\bfseries KV CACHE} \ {\fs{8}(per decoder layer)}};
\node[txt, font=\fs{9}] (kvs) at (1064,765) {Store and reuse past $K, V$};
\node[txt, font=\fs{8.5}] (kvh1) at (1002,784) {Step $t$};
\node[txt, font=\fs{9}] (kvh2) at (1054,784) {$K$ {\fs{7}(cached)}};
\node[txt, font=\fs{9}] (kvh3) at (1113,784) {$V$ {\fs{7}(cached)}};
\draw[gray!60, line width=0.6pt] (1019,775) -- (1019,902);
\foreach \y in {793,818,842} \draw[gray!60, line width=0.6pt] (987,\y) -- (1144,\y);
\foreach \ty/\tx [count=\i] in {805/1, 830/2, 852/{$\vdots$}, 869/{$t{-}1$}, 888/{$t$ (new)}}
  \node[txt, font=\fs{8.5}] (kr\i) at (1004,\ty) {\tx};
\gridm{1028}{800}{1060}{811}{3}{1}{grn}{kk1}
\gridm{1091}{800}{1123}{811}{3}{1}{blue}{kvv1}
\gridm{1028}{824}{1070}{836}{4}{1}{grn}{kk2}
\gridm{1091}{824}{1133}{836}{4}{1}{blue}{kvv2}
\gridm{1028}{862}{1070}{876}{4}{1}{grn}{kk3}
\gridm{1091}{862}{1133}{876}{4}{1}{blue}{kvv3}
\gridm[dashed]{1028}{883}{1070}{897}{4}{1}{grn}{kk4}
\gridm[dashed]{1091}{883}{1133}{897}{4}{1}{blue}{kvv4}
\node[draw=gray!70, fill=gray!12, rounded corners=4pt, line width=0.7pt, minimum width=141pt, minimum height=36pt, inner sep=0pt] (cx10) at (1065.5,932) {};
\node[txt, anchor=west, font=\fs{9}] (cx10a) at (1003,924) {Reduces complexity from $O(t^3)$};
\node[txt, anchor=west, font=\fs{9}] (cx10b) at (1003,940) {to $O(t)$ per step};
\node[draw=redline, fill=redfill!45, rounded corners=8pt, line width=0.8pt, minimum width=198pt, minimum height=171pt, inner sep=0pt] (bm10) at (1255,821.5) {};
\node[txt, font=\fs{10.5}] (bmt) at (1253,748) {{\hdfont\bfseries BEAM SEARCH} \ {\fs{8}(width = B)}};
\node[txt, font=\serif\fs{10.5}] (bos) at (1251,773) {[BOS]};
\node[txt, font=\serif\fs{10}] (bthe) at (1185,807) {\textit{the} (0.6)};
\node[txt, font=\serif\fs{10}] (ba) at (1252,807) {\textit{a} (0.2)};
\node[txt, font=\serif\fs{10}] (bthis) at (1307,807) {\textit{this} (0.1)};
\node[txt, font=\fs{9}] (bdt1) at (1337,806) {$\cdots$};
\node[txt, font=\serif\fs{10}] (bcat) at (1182,842) {\textit{cat} (0.7)};
\node[txt, font=\serif\fs{10}] (bdog) at (1232,842) {\textit{dog} (0.2)};
\node[txt, font=\serif\fs{10}] (bsat) at (1297,842) {\textit{sat} (0.6)};
\node[txt, font=\fs{9}] (bdt2) at (1337,841) {$\cdots$};
\draw[arr, line width=0.8pt] ([xshift=-8pt]bos.south) -- ([xshift=12pt]bthe.north);
\draw[arr, line width=0.8pt] (bos.south) -- ([yshift=1pt]bos.south |- ba.north);
\draw[arr, line width=0.8pt] ([xshift=8pt]bos.south) -- ([xshift=-6pt]bthis.north);
\draw[arr, line width=0.8pt] (bthe.south) -- ([yshift=2pt]bthe.south |- bcat.north);
\coordinate (dga) at (1208,831);
\draw[darr] ([xshift=-10pt,yshift=-1pt]ba.south) -- (dga);
\draw[darr] ([xshift=-10pt,yshift=-1pt]ba.south) -- ([xshift=-8pt,yshift=2pt]bsat.north);
\foreach \x/\nm in {1180/1, 1229/2, 1294/3} {
  \coordinate (bv\nm) at (\x,855);
  \node[txt, font=\fs{9}] (bd\nm) at (\x,882) {$\cdots$};
  \draw[dashed, ink, line width=0.7pt] (bv\nm) -- ([yshift=4pt]bv\nm |- bd\nm.north);
}
\node[draw=redline!70, fill=redfill!40, rounded corners=3pt, line width=0.7pt, minimum width=197pt, minimum height=22pt, inner sep=0pt, font=\serif\fs{8}, text=ink] (ret10) at (1255.5,926) {Return top B completed sequences (highest log-prob)};

% ================= LEGEND
\draw[panel] (1370,702) rectangle (1519,968);
\node[draw=blueline!60, fill=white!50!panelfill, rounded corners=6pt, line width=0.7pt, minimum width=129pt, minimum height=207pt, inner sep=0pt] (leg) at (1445.5,816.5) {};
\node[txt, anchor=west, font=\bfseries\fs{12.5}] (legt) at (1393,730) {Legend};
\foreach \cy/\col/\tx [count=\i] in {756/blue/{Embeddings / Inputs}, 779/yel/Attention, 802/grn/Feed-Forward, 825/pur/{Linear / Projection}, 848/red/{Outputs / Logits}} {
  \node[draw=\col line, fill=\col fill, minimum size=15pt, inner sep=0pt, line width=0.7pt] (sw\i) at (1401.5,\cy) {};
  \node[txt, anchor=west, font=\fs{9}] (swl\i) at (1417,\cy) {\tx};
}
\coordinate (lga) at (1394,874); \coordinate (lgb) at (1416,874);
\draw[arr] (lga) -- (lgb);
\node[txt, anchor=west, font=\fs{9}] (lgf) at (1421,874) {Data Flow};
\coordinate (lgc) at (1394,897); \coordinate (lgd) at (1416,897);
\draw[ln, dashed] (lgc) -- (lgd);
\fill[ink] (1405,897) circle (2pt);
\node[txt, anchor=west, font=\fs{9}] (lgr) at (1421,897) {Residual (Add)};

% ================= BANNER
\fill[navy, rounded corners=7pt] (8,976) rectangle (1523,1020);
\node[anchor=base, inner sep=0pt, text=white] (bn1) at (244,1007) {\resizebox{278pt}{18pt}{\bnfont\bfseries CONTENT-BASED ROUTING}};
\node[text=white, font=\bfseries\fs{24}, inner sep=0pt] (bp1) at (416,997) {+};
\node[anchor=base, inner sep=0pt, text=white] (bn2) at (539.5,1007) {\resizebox{181pt}{18pt}{\bnfont\bfseries RESIDUAL DEPTH}};
\node[text=white, font=\bfseries\fs{24}, inner sep=0pt] (bp2) at (662,997) {+};
\node[anchor=base, inner sep=0pt, text=white] (bn3) at (875,1007) {\resizebox{348pt}{18pt}{\bnfont\bfseries PARALLEL SEQUENCE PROCESSING}};
\node[anchor=base, inner sep=0pt, text=orng] (bn4) at (1305,1007) {\resizebox{330pt}{18pt}{\bnfont\bfseries CONTEXTUAL REPRESENTATIONS}};
\draw[white, line width=2.2pt, -{Stealth[length=12pt,width=11pt]}] ([xshift=23pt]bn3.east) -- ([xshift=-18pt]bn4.west);
\end{tikzpicture}
\end{document}
